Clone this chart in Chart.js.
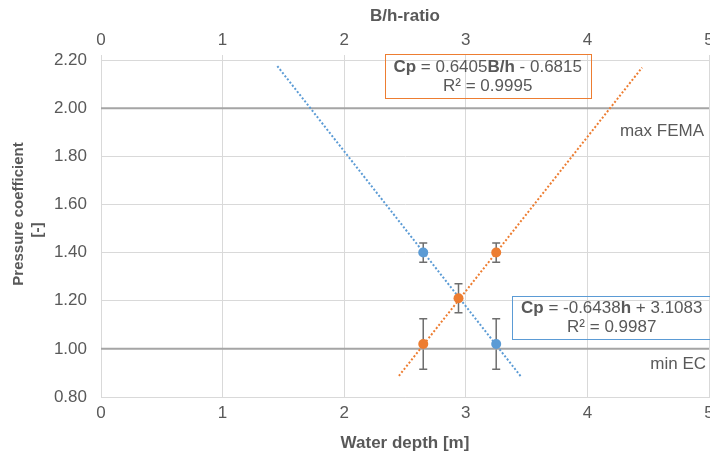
<!DOCTYPE html>
<html>
<head>
<meta charset="utf-8">
<style>
  html, body { margin: 0; padding: 0; background: #ffffff; overflow: hidden; }
  canvas { display: block; }
</style>
<script src="https://cdn.jsdelivr.net/npm/chart.js@4/dist/chart.umd.min.js"></script>
</head>
<body>
<canvas id="chart" width="710" height="457"></canvas>
<script>
// Measured pressure coefficients plotted against water depth (bottom axis)
const waterDepth = [2.65, 3.25];
const cpByDepth = [1.40, 1.02];
const cpByDepthErr = [0.04, 0.105];

// Same coefficients plotted against the B/h ratio (top axis)
const bhRatio = [2.65, 2.94, 3.25];
const cpByRatio = [1.02, 1.21, 1.40];
const cpByRatioErr = [0.105, 0.06, 0.04];

// Linear fits: [slope, intercept, R²] and the x-range each fit line covers
const depthFit = [-0.6438, 3.1083, 0.9987];
const depthFitRange = [1.45, 3.45];
const ratioFit = [0.6405, -0.6815, 0.9995];
const ratioFitRange = [2.45, 4.45];

// Design limits
const limitLabels = ['max FEMA', 'min EC'];
const limitValues = [2.00, 1.00];

// Tick labels
const xTicks = [0, 1, 2, 3, 4, 5];
const yTicks = [0.80, 1.00, 1.20, 1.40, 1.60, 1.80, 2.00, 2.20];

const BLUE = '#5b9bd5';
const ORANGE = '#ed7d31';
const TEXT = '#595959';
const GRID = '#d9d9d9';
const LIMIT = '#a5a5a5';
const FONT = "'Liberation Sans', Arial, sans-serif";

const pts = (xs, ys) => xs.map((x, i) => ({ x, y: ys[i] }));
const fitLine = (range, fit) => range.map(x => ({ x, y: fit[0] * x + fit[1] }));
const fixedTicks = list => scale => { scale.ticks = list.map(v => ({ value: v })); };
// Horizontal axes keep a fixed height and let their end labels run past the plot edge
const fixHorizontal = h => s => { s.height = h; s.paddingLeft = 0; s.paddingRight = 0; };

const overlay = {
  id: 'overlay',
  beforeDatasetsDraw(chart) {
    const ctx = chart.ctx;
    const y = chart.scales.y;
    const bars = [
      { scale: chart.scales.x, xs: waterDepth, ys: cpByDepth, es: cpByDepthErr },
      { scale: chart.scales.x2, xs: bhRatio, ys: cpByRatio, es: cpByRatioErr }
    ];
    ctx.save();
    ctx.strokeStyle = '#6e6e6e';
    ctx.lineWidth = 1.5;
    bars.forEach(b => {
      b.xs.forEach((xv, i) => {
        const px = b.scale.getPixelForValue(xv);
        const top = y.getPixelForValue(b.ys[i] + b.es[i]);
        const bot = y.getPixelForValue(b.ys[i] - b.es[i]);
        ctx.beginPath();
        ctx.moveTo(px, top); ctx.lineTo(px, bot);
        ctx.moveTo(px - 4, top); ctx.lineTo(px + 4, top);
        ctx.moveTo(px - 4, bot); ctx.lineTo(px + 4, bot);
        ctx.stroke();
      });
    });
    ctx.restore();
  },
  afterDatasetsDraw(chart) {
    const ctx = chart.ctx;
    const { x, y } = chart.scales;
    const area = chart.chartArea;
    ctx.save();
    ctx.fillStyle = TEXT;
    ctx.textBaseline = 'middle';

    // Limit labels, right-aligned under each limit line
    ctx.font = '17px ' + FONT;
    ctx.textAlign = 'right';
    ctx.fillText(limitLabels[0], area.right - 5, y.getPixelForValue(limitValues[0]) + 23);
    ctx.fillText(limitLabels[1], area.right - 3, y.getPixelForValue(limitValues[1]) + 15);

    // Fit equation boxes
    const sign = v => (v < 0 ? ' - ' : ' + ') + Math.abs(v).toFixed(4);
    const eqBox = (cx, cy, w, h, color, parts, r2) => {
      ctx.strokeStyle = color;
      ctx.lineWidth = 1;
      ctx.strokeRect(Math.round(cx - w / 2) + 0.5, Math.round(cy - h / 2) + 0.5, w, h);
      let total = 0;
      parts.forEach(p => { ctx.font = (p[1] ? 'bold ' : '') + '17px ' + FONT; p.w = ctx.measureText(p[0]).width; total += p.w; });
      let px = cx - total / 2;
      ctx.textAlign = 'left';
      parts.forEach(p => { ctx.font = (p[1] ? 'bold ' : '') + '17px ' + FONT; ctx.fillText(p[0], px, cy - 9); px += p.w; });
      ctx.font = '17px ' + FONT;
      ctx.textAlign = 'center';
      ctx.fillText('R\u00b2 = ' + r2.toFixed(4), cx, cy + 10);
    };
    eqBox(x.getPixelForValue(3.18), y.getPixelForValue(2.134), 206, 44, ORANGE,
      [['Cp', true], [' = ' + ratioFit[0].toFixed(4), false], ['B/h', true], [sign(ratioFit[1]), false]], ratioFit[2]);
    eqBox(x.getPixelForValue(4.20), y.getPixelForValue(1.130), 199, 43, BLUE,
      [['Cp', true], [' = ' + depthFit[0].toFixed(4), false], ['h', true], [sign(depthFit[1]), false]], depthFit[2]);

    // Two-line vertical axis title
    ctx.font = 'bold 15px ' + FONT;
    ctx.textAlign = 'center';
    ctx.save();
    ctx.translate(19, 214);
    ctx.rotate(-Math.PI / 2);
    ctx.fillText('Pressure coefficient', 0, 0);
    ctx.restore();
    ctx.save();
    ctx.translate(38, 230);
    ctx.rotate(-Math.PI / 2);
    ctx.fillText('[-]', 0, 0);
    ctx.restore();
    ctx.restore();
  }
};

new Chart(document.getElementById('chart'), {
  type: 'scatter',
  data: {
    datasets: [
      { data: pts(waterDepth, cpByDepth), xAxisID: 'x', backgroundColor: BLUE, borderColor: BLUE, pointRadius: 5, pointBorderWidth: 0 },
      { data: pts(bhRatio, cpByRatio), xAxisID: 'x2', backgroundColor: ORANGE, borderColor: ORANGE, pointRadius: 5, pointBorderWidth: 0 },
      { data: fitLine(depthFitRange, depthFit), xAxisID: 'x', showLine: true, borderColor: BLUE, borderWidth: 2, borderDash: [2, 2], pointRadius: 0 },
      { data: fitLine(ratioFitRange, ratioFit), xAxisID: 'x2', showLine: true, borderColor: ORANGE, borderWidth: 2, borderDash: [2, 2], pointRadius: 0 },
      { data: [{ x: xTicks[0], y: limitValues[0] }, { x: xTicks[xTicks.length - 1], y: limitValues[0] }], xAxisID: 'x', showLine: true, borderColor: LIMIT, borderWidth: 2, pointRadius: 0 },
      { data: [{ x: xTicks[0], y: limitValues[1] }, { x: xTicks[xTicks.length - 1], y: limitValues[1] }], xAxisID: 'x', showLine: true, borderColor: LIMIT, borderWidth: 2, pointRadius: 0 }
    ]
  },
  options: {
    responsive: false,
    animation: false,
    devicePixelRatio: 1,
    layout: { autoPadding: false, padding: { left: 0, right: 1, top: 0, bottom: 0 } },
    plugins: { legend: { display: false }, tooltip: { enabled: false } },
    scales: {
      x: {
        type: 'linear', position: 'bottom', min: 0, max: 5,
        afterBuildTicks: fixedTicks(xTicks),
        afterFit: fixHorizontal(60),
        grid: { color: GRID, drawTicks: false },
        border: { color: GRID },
        ticks: { color: TEXT, font: { family: FONT, size: 17 }, padding: 6 },
        title: { display: true, text: 'Water depth [m]', color: TEXT, font: { family: FONT, size: 17, weight: 'bold' }, padding: { top: 0, bottom: 3 } }
      },
      x2: {
        type: 'linear', position: 'top', min: 0, max: 5,
        afterBuildTicks: fixedTicks(xTicks),
        afterFit: fixHorizontal(60),
        grid: { color: GRID, drawOnChartArea: false, drawTicks: true, tickLength: 5 },
        border: { color: GRID },
        ticks: { color: TEXT, font: { family: FONT, size: 17 }, padding: 4 },
        title: { display: true, text: 'B/h-ratio', color: TEXT, font: { family: FONT, size: 17, weight: 'bold' }, padding: { top: 6, bottom: 0 } }
      },
      y: {
        type: 'linear', min: 0.8, max: 2.2,
        afterBuildTicks: fixedTicks(yTicks),
        afterFit: s => { s.width = 101; s.paddingTop = 0; s.paddingBottom = 0; },
        grid: { color: GRID, drawTicks: false },
        border: { color: GRID },
        ticks: { color: TEXT, font: { family: FONT, size: 17 }, padding: 14, callback: v => v.toFixed(2) }
      }
    }
  },
  plugins: [overlay]
});
</script>
</body>
</html>
